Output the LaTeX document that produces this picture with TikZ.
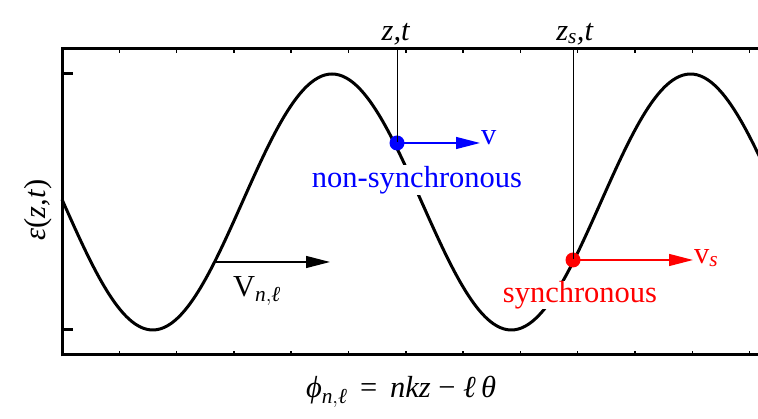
\documentclass[tikz,border=0pt]{standalone}
\usepackage{amsmath}
\usepackage{fontspec}
\setmainfont{Liberation Serif}
\usetikzlibrary{arrows.meta}
\tikzset{
  dot/.style={circle, inner sep=0pt, minimum size=15pt},
  vel/.style={line width=1.3pt, -{Triangle[length=24pt,width=12pt]}},
  lbl/.style={inner sep=1pt, font=\fontsize{30.5}{33}\selectfont},
}
\begin{document}
\begin{tikzpicture}[x=1pt,y=1pt]
\useasboundingbox (0,0) rectangle (758,419);
\begin{scope}
\clip (0,0) rectangle (758,419);
% frame with small ticks
\draw[line width=3pt] (62,370) -- (762,370);
\draw[line width=3pt] (62,64) -- (762,64);
\draw[line width=3pt] (62,62.5) -- (62,371.5);
\foreach \t in {1,...,12}
  {\draw[line width=1.5pt] (62+57.3*\t,366) -- (62+57.3*\t,371);
   \draw[line width=1.5pt] (62+57.3*\t,63) -- (62+57.3*\t,68);}
\draw[line width=3pt] (62,345) -- (73,345);
\draw[line width=3pt] (62,89) -- (73,89);
% wave, period 358.5
\draw[line width=3pt, domain=62:760, samples=200, smooth]
  plot (\x, {217+128*sin(1.00418*(\x-242.4))});
\end{scope}

% non-synchronous particle
\node[dot, fill=blue] (ns) at (397,276) {};
\coordinate (nstop) at (397,370);
\draw[line width=0.8pt] (nstop) -- (ns.center);
\node[lbl, above] (zt) at (396,373) {\textit{z,t}};
\node[lbl, text=blue, anchor=west] (nsv) at (480,281) {v};
\draw[vel, blue] (ns.center) -- (ns.center -| nsv.west);
\node[lbl, text=blue, fill=white] (nstext) at (417,239) {non-synchronous};

% synchronous particle
\node[dot, fill=red] (sy) at (573,159) {};
\coordinate (sytop) at (573,370);
\draw[line width=0.8pt] (sytop) -- (sy.center);
\node[lbl, above] (zst) at (575,373) {\textit{z}$_{\textit{s}}$\textit{,t}};
\node[lbl, text=red, anchor=west] (syv) at (693,161) {v$_{\textit{s}}$};
\draw[vel, red] (sy.center) -- (sy.center -| syv.west);
\node[lbl, text=red, fill=white, inner sep=0pt] (sytext) at (580,124) {synchronous};

% phase velocity
\coordinate (vstart) at (215,157);
\node[lbl, anchor=west] (vph) at (330,157) {};
\draw[vel, black] (vstart) -- (vph.west);
\node[lbl] (vlabel) at (257,128) {V$_{\textit{n},\textit{ℓ}}$};

% axis labels
\node[lbl, rotate=90] (eps) at (38,209) {\textit{ε}(\textit{z,t})};
\node[lbl] (phi) at (401,27) {\textit{ϕ}$_{\textit{n},\textit{ℓ}}$\, = \,\textit{nkz} − \textit{ℓ\,θ}};
\end{tikzpicture}
\end{document}
